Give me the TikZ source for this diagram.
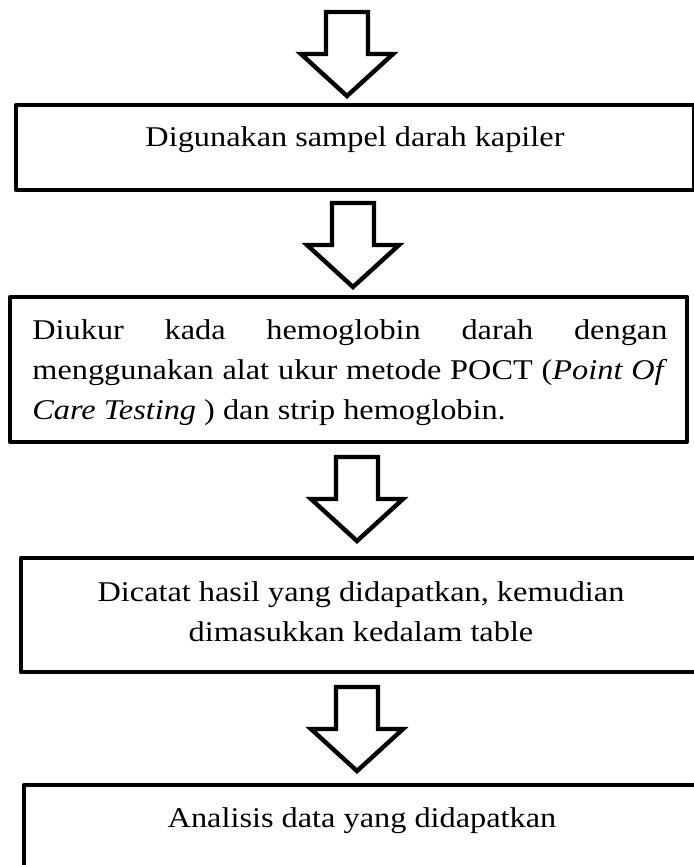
\documentclass[tikz,border=0pt]{standalone}
\usepackage{fontspec}
\setmainfont{Liberation Serif}[FakeStretch=1.13]
\usepackage{tikz}
\usetikzlibrary{calc,positioning}
\def\bigarrow#1#2{\draw[arrowline] (#1-21,#2) -- (#1+21,#2) -- (#1+21,#2+42) -- (#1+46,#2+42) -- (#1,#2+84) -- (#1-46,#2+42) -- (#1-21,#2+42) -- cycle;}

\begin{document}
\begin{tikzpicture}[x=0.5pt,y=-0.5pt,
  boxline/.style={line width=2.3pt, line join=round},
  arrowline/.style={line width=2.2pt, fill=white, line join=miter},
  steptext/.style={inner sep=0pt, font=\fontsize{14.3}{20}\selectfont}]

\useasboundingbox (0,0) rectangle (693,865);

\bigarrow{347}{12}
\draw[boxline] (16,105) rectangle (694.5,190);
\node[steptext, anchor=base] (sampel) at (355,147) {Digunakan sampel darah kapiler};

\bigarrow{353}{203}
\draw[boxline] (10,297) rectangle (687,442);
\node[steptext, anchor=north west, text width=317.5pt, align=justify] (ukur) at (32,311)
  {\strut Diukur kada hemoglobin darah dengan\linebreak
   menggunakan alat ukur metode POCT (\textit{Point Of}\linebreak
   \textit{Care Testing} ) dan strip hemoglobin.\strut};

\bigarrow{357}{457}
\draw[boxline] (21,558) rectangle (705,672);
\node[steptext, anchor=north, align=center] (catat) at (361,573)
  {\strut Dicatat hasil yang didapatkan, kemudian\\ dimasukkan kedalam table\strut};

\bigarrow{357}{687}
\draw[boxline] (24,785) rectangle (705,900);
\node[steptext, anchor=base] (analisis) at (362,827) {Analisis data yang didapatkan};

\end{tikzpicture}
\end{document}
